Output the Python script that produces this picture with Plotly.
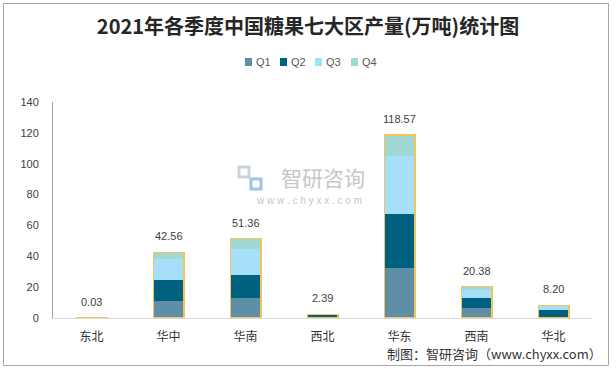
import plotly.graph_objects as go

regions = ["东北", "华中", "华南", "西北", "华东", "西南", "华北"]
q1 = [0.01, 11.2, 13.1, 0.6, 32.2, 6.5, 0.5]
q2 = [0.01, 13.5, 14.9, 1.4, 35.0, 6.6, 4.5]
q3 = [0.005, 13.6, 16.8, 0.3, 38.0, 5.2, 3.1]
q4 = [0.005, 4.26, 6.56, 0.09, 13.37, 2.08, 0.1]
totals = [0.03, 42.56, 51.36, 2.39, 118.57, 20.38, 8.20]
series_names = ["Q1", "Q2", "Q3", "Q4"]
colors = ["#5e8fa7", "#00607f", "#a6dff8", "#a2d8d4"]
y_ticks = [0, 20, 40, 60, 80, 100, 120, 140]

L, R, T, B = 53, 24, 102, 51
W, H = 616, 369
PW, PH = W - L - R, H - T - B


def px(x):
    return (x - L) / PW


def py(y):
    return (H - B - y) / PH


fig = go.Figure()
for name, vals, c in zip(series_names, [q1, q2, q3, q4], colors):
    fig.add_trace(go.Bar(x=regions, y=vals, name=name, marker=dict(color=c, line=dict(width=0)),
                         width=0.4, xaxis="x", yaxis="y", showlegend=False))

fig.add_trace(go.Bar(x=regions, y=totals, width=0.4, showlegend=False, hoverinfo="skip",
                     marker=dict(color="rgba(0,0,0,0)", line=dict(color="#f2c55c", width=1.2)),
                     xaxis="x2", yaxis="y"))

for r, t in zip(regions, totals):
    fig.add_annotation(x=r, y=t, xref="x", yref="y", text=f"{t:.2f}", showarrow=False,
                       yanchor="bottom", yshift=8, font=dict(size=11, color="#404040", family="Liberation Sans, Arial"))

fig.update_layout(
    width=W, height=H,
    margin=dict(l=L, r=R, t=T, b=B, autoexpand=False),
    paper_bgcolor="white", plot_bgcolor="white",
    barmode="stack", bargap=0.6,
    title=dict(text="<b>2021年各季度中国糖果七大区产量(万吨)统计图</b>", x=0.5, xanchor="center",
               y=1 - 27 / H, yanchor="middle",
               font=dict(size=20, color="#262626", family="Noto Sans CJK SC")),
    showlegend=False,
    xaxis=dict(type="category", showline=True, linecolor="#d9d9d9", linewidth=1, ticks="",
               tickfont=dict(size=12, color="#333333", family="Noto Sans CJK SC"), showgrid=False,
               categoryorder="array", categoryarray=regions, ticklabelstandoff=8),
    xaxis2=dict(type="category", overlaying="x", matches="x", visible=False,
                categoryorder="array", categoryarray=regions),
    yaxis=dict(range=[0, 140], tickvals=y_ticks, showline=True, linecolor="#a6a6a6", linewidth=1,
               showgrid=False, zeroline=False, ticks="",
               tickfont=dict(size=11, color="#404040", family="Liberation Sans, Arial"), ticklabelstandoff=11),
)

# manual legend
leg_x = [245, 280, 315, 351]
for xx, name, c in zip(leg_x, series_names, colors):
    fig.add_shape(type="rect", xref="paper", yref="paper", x0=px(xx), x1=px(xx + 7), y0=py(66), y1=py(58),
                  fillcolor=c, line=dict(width=0))
    fig.add_annotation(xref="paper", yref="paper", x=px(xx + 9), y=py(62), text=name, showarrow=False,
                       xanchor="left", yanchor="middle",
                       font=dict(size=11, color="#595959", family="Liberation Sans, Arial"))

# watermark
fig.add_annotation(xref="paper", yref="paper", x=px(323), y=py(177), text="智研咨询", showarrow=False,
                   font=dict(size=21, color="#c6c6c6", family="Noto Sans CJK SC"), xanchor="center", yanchor="middle")
fig.add_annotation(xref="paper", yref="paper", x=px(309), y=py(200), text="w w w . c h y x x . c o m", showarrow=False,
                   font=dict(size=10, color="#c6c6c6", family="Liberation Sans, Arial"), xanchor="center", yanchor="middle")
fig.add_shape(type="rect", xref="paper", yref="paper", x0=px(239), x1=px(249), y0=py(177), y1=py(167),
              line=dict(color="#c9d3dc", width=3), fillcolor="rgba(0,0,0,0)")
fig.add_shape(type="rect", xref="paper", yref="paper", x0=px(251), x1=px(261), y0=py(189), y1=py(179),
              line=dict(color="#9ec5e8", width=3), fillcolor="rgba(0,0,0,0)")

# footer
fig.add_annotation(xref="paper", yref="paper", x=px(604), y=py(353), text="制图：智研咨询（www.chyxx.com）",
                   showarrow=False, xanchor="right", yanchor="middle",
                   font=dict(size=13, color="#333333", family="Noto Sans CJK SC"))

# outer frame
fig.add_shape(type="rect", xref="paper", yref="paper",
              x0=px(3.5), x1=px(608.5), y0=py(365.5), y1=py(3.5),
              line=dict(color="#a6a6a6", width=1), fillcolor="rgba(0,0,0,0)")

fig.write_html("out.html", config={"displayModeBar": False},
               post_script="document.body.style.margin='0';document.body.style.overflow='hidden';")
